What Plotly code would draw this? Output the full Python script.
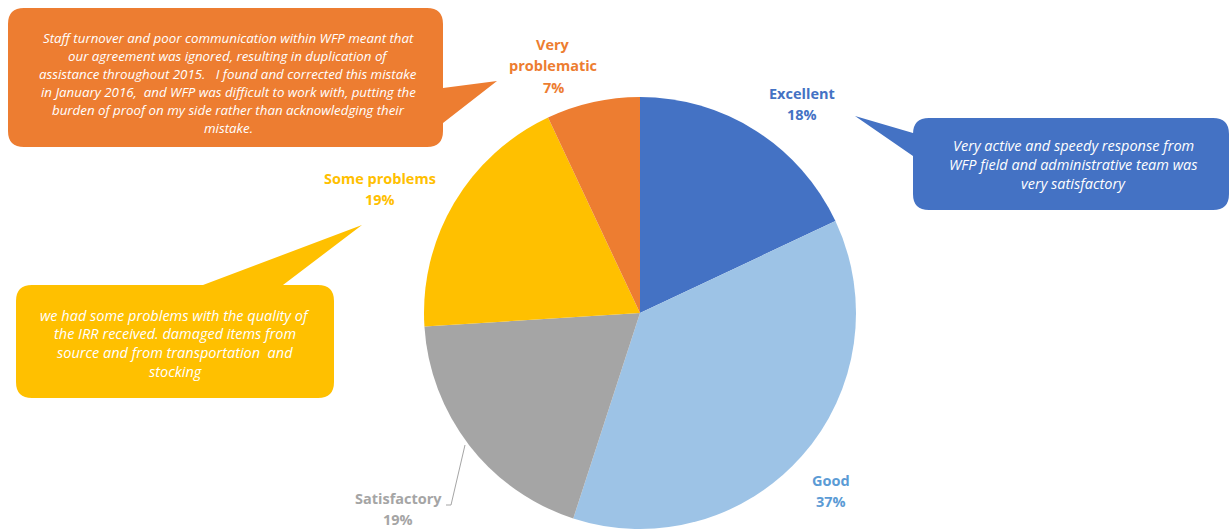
import plotly.graph_objects as go

# Survey ratings of the partnership
categories = ["Excellent", "Good", "Satisfactory", "Some problems", "Very problematic"]
shares = [18, 37, 19, 19, 7]
slice_colors = ["#4472C4", "#9DC3E6", "#A5A5A5", "#FFC000", "#ED7D31"]
label_colors = ["#4472C4", "#5B9BD5", "#A5A5A5", "#FFC000", "#ED7D31"]

# Partner comments attached to three of the ratings
comment_excellent = [
    "Very active and speedy response from",
    "WFP field and administrative team was",
    "very satisfactory",
]
comment_some_problems = [
    "we had some problems with the quality of",
    "the IRR received. damaged items from",
    "source and from transportation  and",
    "stocking",
]
comment_very_problematic = [
    "Staff turnover and poor communication within WFP meant that",
    "our agreement was ignored, resulting in duplication of",
    "assistance throughout 2015.   I found and corrected this mistake",
    "in January 2016,  and WFP was difficult to work with, putting the",
    "burden of proof on my side rather than acknowledging their",
    "mistake.",
]

W, H = 1231, 530
FONT = "Open Sans"

fig = go.Figure()

# Pie: centre (640, 313), radius ~216 px
cx, cy, r = 640, 313, 216
fig.add_trace(go.Pie(
    labels=categories,
    values=shares,
    sort=False,
    direction="clockwise",
    rotation=0,
    marker=dict(colors=slice_colors, line=dict(width=0)),
    textinfo="none",
    hoverinfo="label+percent",
    showlegend=False,
    domain=dict(x=[(cx - r) / W, (cx + r) / W], y=[1 - (cy + r) / H, 1 - (cy - r) / H]),
))


def bubble(x0, y0, x1, y1, tail, side, rad=16):
    """Rounded rectangle with a pointed tail on one side (pixel coords)."""
    b0, b1, tip = tail
    p = [f"M{x0 + rad},{y0}"]
    if side == "top":
        p += [f"L{b0},{y0}", f"L{tip[0]},{tip[1]}", f"L{b1},{y0}"]
    p += [f"L{x1 - rad},{y0}", f"Q{x1},{y0} {x1},{y0 + rad}"]
    if side == "right":
        p += [f"L{x1},{b0}", f"L{tip[0]},{tip[1]}", f"L{x1},{b1}"]
    p += [f"L{x1},{y1 - rad}", f"Q{x1},{y1} {x1 - rad},{y1}",
          f"L{x0 + rad},{y1}", f"Q{x0},{y1} {x0},{y1 - rad}"]
    if side == "left":
        p += [f"L{x0},{b1}", f"L{tip[0]},{tip[1]}", f"L{x0},{b0}"]
    p += [f"L{x0},{y0 + rad}", f"Q{x0},{y0} {x0 + rad},{y0}", "Z"]
    return " ".join(p)


shapes = [
    dict(type="path", xref="x", yref="y", layer="below",
         path=bubble(8, 8, 443, 147, (88, 123, (497, 81)), "right"),
         fillcolor="#ED7D31", line=dict(width=0)),
    dict(type="path", xref="x", yref="y", layer="below",
         path=bubble(913, 118, 1229, 210, (133, 156, (855, 116)), "left"),
         fillcolor="#4472C4", line=dict(width=0)),
    dict(type="path", xref="x", yref="y", layer="below",
         path=bubble(16, 285, 334, 398, (203, 283, (362, 225)), "top"),
         fillcolor="#FFC000", line=dict(width=0)),
    # leader line for the Satisfactory label
    dict(type="path", xref="x", yref="y",
         path="M446,505 L451,505 L465,445",
         line=dict(color="#A5A5A5", width=1)),
]

annotations = []


def add_lines(lines, xc, y_first, step, color, size, bold=False, italic=False):
    for i, t in enumerate(lines):
        txt = f"<b>{t}</b>" if bold else t
        txt = f"<i>{txt}</i>" if italic else txt
        annotations.append(dict(
            x=xc, y=y_first + i * step, xref="x", yref="y", text=txt,
            showarrow=False, xanchor="center", yanchor="middle",
            font=dict(family=FONT, size=size, color=color),
        ))


# Category labels with percentages
label_pos = {
    "Excellent": (802, 93),
    "Good": (831, 480),
    "Satisfactory": (398, 498),
    "Some problems": (380, 178),
    "Very problematic": (553, 44),
}
for name, val, col in zip(categories, shares, label_colors):
    xc, yc = label_pos[name]
    words = ["Very", "problematic"] if name == "Very problematic" else [name]
    add_lines(words + [f"{val}%"], xc, yc, 21.5, col, 14.5, bold=True)

# Comment texts
add_lines(comment_very_problematic, 228, 38, 18, "white", 13.3, italic=True)
add_lines(comment_excellent, 1073, 145, 19, "white", 14.5, italic=True)
add_lines(comment_some_problems, 175, 315, 18.7, "white", 14.5, italic=True)

fig.update_layout(
    width=W, height=H,
    margin=dict(l=0, r=0, t=0, b=0),
    paper_bgcolor="white", plot_bgcolor="rgba(0,0,0,0)",
    xaxis=dict(range=[0, W], visible=False, fixedrange=True),
    yaxis=dict(range=[H, 0], visible=False, fixedrange=True),
    shapes=shapes,
    annotations=annotations,
)

fig.write_html("out.html")
